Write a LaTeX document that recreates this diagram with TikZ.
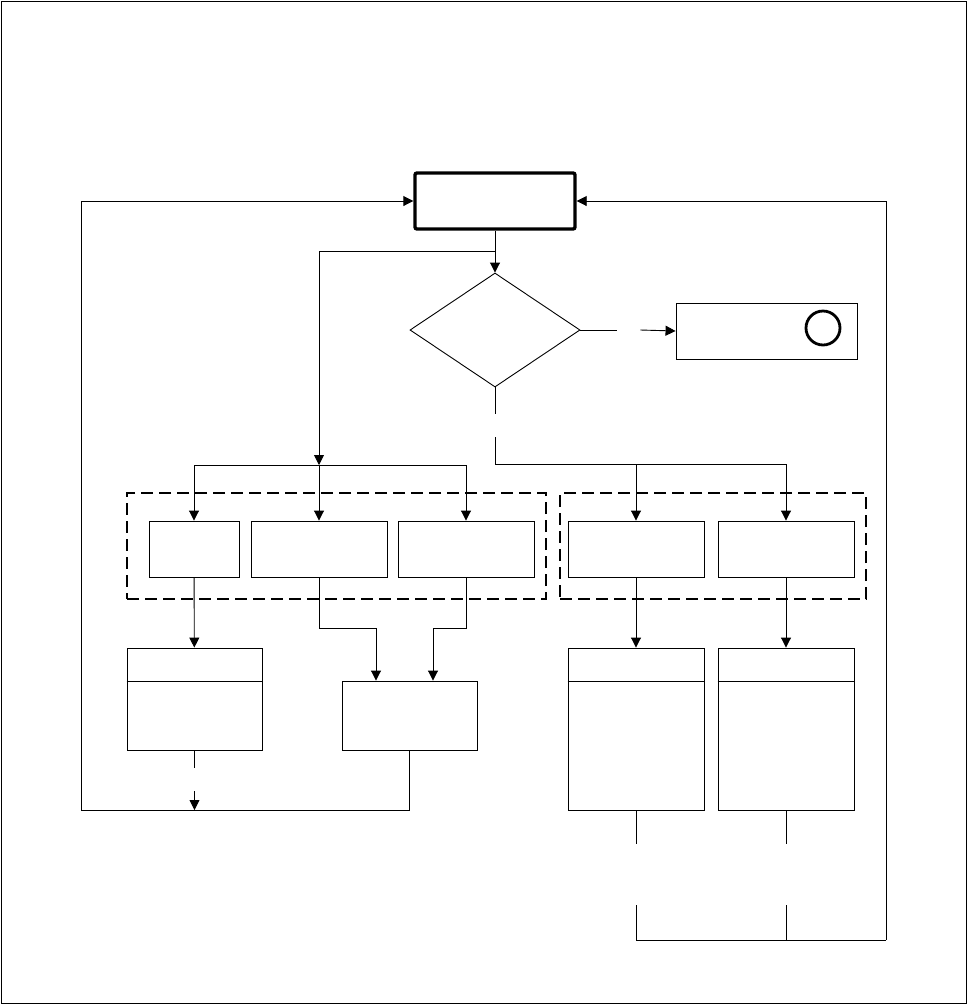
\documentclass[tikz,border=0pt]{standalone}
\usetikzlibrary{positioning,arrows.meta,shapes.geometric}

\begin{document}
\begin{tikzpicture}[x=1pt,y=-1pt,
  line width=0.9pt,
  box/.style={draw,rectangle,inner sep=0pt,minimum height=56pt,minimum width=136pt},
  group/.style={draw,rectangle,inner sep=0pt,line width=1.3pt,dash pattern=on 12pt off 6pt},
  arr/.style={-{Triangle[width=10pt,length=10pt]}}]

\useasboundingbox (0,0) rectangle (967,1005);
\draw (1,1) rectangle (966,1003);

%%% 上段
\node[draw,rectangle,line width=3.4pt,rounded corners=2pt,minimum width=160pt,minimum height=56pt] (start) at (495,201) {};
\node[draw,diamond,inner sep=0pt,minimum width=170pt,minimum height=114pt] (decide) at (495,330) {};
\node[box,minimum width=181pt] (stop) at (766.5,331) {};
\node[draw,circle,line width=2.8pt,minimum size=34pt,inner sep=0pt] (mark) at (823,328) {};

%%% 中段
\node[group,minimum width=419pt,minimum height=106pt] (grpL) at (336.5,546) {};
\node[group,minimum width=306pt,minimum height=106pt] (grpR) at (713,546) {};

\node[box,minimum width=90pt] (sa) at (194,549) {};
\node[box] (sb) at (319,549) {};
\node[box] (sc) at (466,549) {};
\node[box] (sd) at (636,549) {};
\node[box] (se) at (786,549) {};

%%% 下段
\node[box,minimum width=135pt,minimum height=102pt] (ta) at (194.5,699) {};
\node[box,minimum width=135pt,minimum height=69pt] (merge) at (409.5,715.5) {};
\node[box,minimum height=162pt] (td) at (636,729) {};
\node[box,minimum height=162pt] (te) at (786,729) {};

% 仕切り線
\draw ([yshift=-34pt]ta.north west) -- ([yshift=-34pt]ta.north east);
\draw ([yshift=-34pt]td.north west) -- ([yshift=-34pt]td.north east);
\draw ([yshift=-34pt]te.north west) -- ([yshift=-34pt]te.north east);

%% 座標
\coordinate (brL) at (319,251);
\coordinate (hubL) at (319,465);
\coordinate (hubR) at (495,464);
\coordinate (mb) at (376,628);
\coordinate (mc) at (433,628);
\coordinate (loopL) at (81,810);
\coordinate (loopR) at (886,940);

%% 線
\draw[arr] (start) -- (decide);
\draw[arr] (start.south |- brL) -- (brL) -- (hubL);
\draw (sa.north |- hubL) -- (sc.north |- hubL);
\draw[arr] (sa.north |- hubL) -- (sa.north);
\draw[arr] (hubL) -- (sb.north);
\draw[arr] (sc.north |- hubL) -- (sc.north);

\draw (decide.south) -- ++(0,27);
\draw ([yshift=-50pt]decide.south) -- (hubR) -- (se.north |- hubR);
\draw[arr] (sd.north |- hubR) -- (sd.north);
\draw[arr] (se.north |- hubR) -- (se.north);

\draw (decide.east) -- ++(37,0);
\draw[arr] ([xshift=60pt]decide.east) -- (stop.west);

\draw[arr] (sa) -- (ta);
\draw[arr] (sb.south) |- (mb) -- (mb |- merge.north);
\draw[arr] (sc.south) |- (mc) -- (mc |- merge.north);
\draw[arr] (sd) -- (td);
\draw[arr] (se) -- (te);

%% 戻り線
\draw (ta.south) -- ++(0,18);
\draw[arr] (ta.south |- 0,791) -- (ta.south |- loopL);
\draw[arr] (merge.south) |- (loopL) |- (start.west);

\draw (td.south) -- ++(0,34);
\draw (te.south) -- ++(0,34);
\draw (td.south |- 0,905) |- (loopR);
\draw (te.south |- 0,905) -- (te.south |- loopR);
\draw[arr] (loopR) |- (start.east);

\end{tikzpicture}
\end{document}
